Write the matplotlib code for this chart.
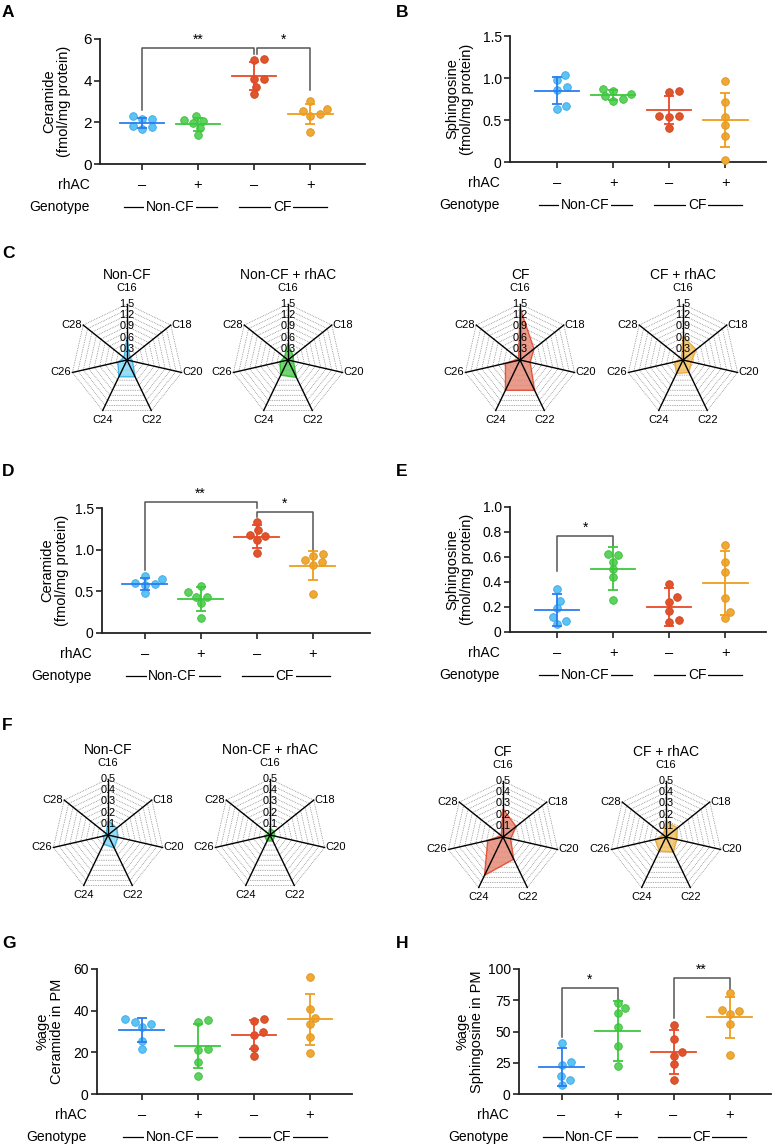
import matplotlib

matplotlib.use("Agg")
import matplotlib.pyplot as plt
import numpy as np
from matplotlib import transforms

plt.rcParams["font.family"] = ["Liberation Sans", "DejaVu Sans"]

W, H = 772, 1144

RHAC = ["\u2013", "+", "\u2013", "+"]
CHAINS = ["C16", "C18", "C20", "C22", "C24", "C26", "C28"]
RADAR_TITLES = ["Non-CF", "Non-CF + rhAC", "CF", "CF + rhAC"]

# A: total ceramide (fmol/mg protein)
a_pts = [[2.16, 2.16, 2.29, 1.82, 1.70, 1.78],
         [2.32, 2.06, 2.12, 1.72, 1.38, 1.98],
         [4.98, 5.02, 4.10, 4.06, 3.70, 3.36],
         [2.66, 3.02, 2.56, 2.42, 2.30, 1.52]]
a_mean = [1.97, 1.90, 4.22, 2.42]
a_sd = [0.26, 0.32, 0.66, 0.48]

# B: sphingosine (fmol/mg protein)
b_pts = [[0.98, 1.04, 0.89, 0.86, 0.67, 0.63],
         [0.84, 0.865, 0.81, 0.78, 0.75, 0.73],
         [0.83, 0.845, 0.55, 0.535, 0.55, 0.40],
         [0.97, 0.71, 0.54, 0.44, 0.31, 0.02]]
b_mean = [0.85, 0.80, 0.62, 0.50]
b_sd = [0.165, 0.06, 0.17, 0.32]

# C: ceramide species (radar, 0-1.5)
c_species = [[0.60, 0.10, 0.15, 0.50, 0.50, 0.25, 0.10],
             [0.44, 0.18, 0.15, 0.52, 0.45, 0.22, 0.12],
             [1.40, 0.48, 0.28, 0.90, 0.90, 0.40, 0.05],
             [0.63, 0.45, 0.23, 0.37, 0.40, 0.23, 0.05]]

# D: ceramide, second compartment
d_pts = [[0.648, 0.688, 0.584, 0.604, 0.572, 0.476],
         [0.564, 0.492, 0.428, 0.436, 0.36, 0.184],
         [1.33, 1.236, 1.164, 1.18, 1.116, 0.956],
         [0.924, 0.944, 0.872, 0.848, 0.82, 0.472]]
d_mean = [0.59, 0.41, 1.155, 0.81]
d_sd = [0.074, 0.14, 0.136, 0.174]

# E: sphingosine, second compartment
e_pts = [[0.34, 0.245, 0.19, 0.117, 0.09, 0.064],
         [0.624, 0.613, 0.563, 0.50, 0.44, 0.256],
         [0.38, 0.28, 0.24, 0.17, 0.077, 0.099],
         [0.699, 0.56, 0.48, 0.27, 0.16, 0.109]]
e_mean = [0.176, 0.507, 0.197, 0.39]
e_sd = [0.13, 0.173, 0.152, 0.255]

# F: ceramide species (radar, 0-0.5)
f_species = [[0.13, 0.10, 0.09, 0.13, 0.09, 0.04, 0.02],
             [0.06, 0.05, 0.04, 0.06, 0.06, 0.05, 0.02],
             [0.25, 0.15, 0.07, 0.22, 0.38, 0.14, 0.02],
             [0.14, 0.13, 0.10, 0.15, 0.14, 0.10, 0.03]]

# G: % ceramide in PM
g_pts = [[36, 34.7, 33.6, 32.2, 25.3, 21.8],
         [35.5, 34.6, 21, 21.8, 15.4, 8.8],
         [35, 35.8, 29.9, 28.2, 22.2, 18.4],
         [56, 40.8, 36.5, 33.6, 27.4, 19.8]]
g_mean = [30.6, 23.0, 28.5, 35.8]
g_sd = [5.85, 10.5, 6.9, 12.3]

# H: % sphingosine in PM
h_pts = [[40.8, 25.5, 23, 14.5, 11.3, 7.5],
         [73, 68.5, 64.5, 54, 38.4, 22.7],
         [55.2, 43.7, 33.6, 30.4, 24.3, 11.5],
         [80.8, 66.7, 67.5, 63.7, 56.3, 30.9]]
h_mean = [21.6, 50.4, 33.6, 61.3]
h_sd = [15.5, 24.0, 17.5, 16.5]

DOT = ["#5BC4F5", "#5CD35C", "#E0562C", "#F0A933"]
DOT_EDGE = ["#3AA6E8", "#3DBA3D", "#C9441F", "#D9921F"]
LINE = ["#2B7DF0", "#3CC83C", "#E84A2A", "#EE9D1E"]
FILL = ["#7DD6F5", "#4DCB4D", "#E58370", "#F0BE5A"]
EDGE = ["#29A9E0", "#22B422", "#E03A1C", "#E8A12A"]

fig = plt.figure(figsize=(W / 100, H / 100), dpi=100)


def px_axes(x0, y0, x1, y1):
    return fig.add_axes([x0 / W, 1 - y1 / H, (x1 - x0) / W, (y1 - y0) / H])


def letter(x, y, s):
    fig.text(x / W, 1 - y / H, s, fontsize=12.5, fontweight="bold", ha="left", va="center")


def swarm(ax, xi, vals, dx_min=10.0, dy_min=7.2):
    # greedy beeswarm in pixel space, elliptical exclusion zone
    vals = np.asarray(vals, dtype=float)
    ys = ax.transData.transform(np.column_stack([np.full(len(vals), xi), vals]))[:, 1]
    ppu = ax.transData.transform((1, 0))[0] - ax.transData.transform((0, 0))[0]
    cands = [0.0]
    for k in range(1, 80):
        cands += [k * 0.5, -k * 0.5]
    placed = []
    offs = np.zeros(len(vals))
    for idx in np.argsort(ys):
        y = ys[idx]
        for c in cands:
            if all(((px - c) / dx_min) ** 2 + ((py - y) / dy_min) ** 2 >= 1 for px, py in placed):
                placed.append((c, y))
                offs[idx] = c / ppu
                break
    return offs


def bracket(ax, x1, x2, y, y1, y2, stars):
    ax.plot([x1, x1, x2, x2], [y1, y, y, y2], color="#555555", lw=1.1, clip_on=False)
    ax.annotate(stars, ((x1 + x2) / 2, y), xytext=(0, 1), textcoords="offset points",
                ha="center", va="bottom", fontsize=10, annotation_clip=False)


def dot_panel(box, xlim, ylim, yticks, yticklabels, ylabel, ylab_x, pts, means, sds, tick_fs=10):
    ax = px_axes(*box)
    ax.set_xlim(xlim)
    ax.set_ylim(ylim)
    for s in ["top", "right"]:
        ax.spines[s].set_visible(False)
    for s in ["left", "bottom"]:
        ax.spines[s].set_linewidth(1.3)
        ax.spines[s].set_color("#222222")
    ax.set_yticks(yticks)
    ax.set_yticklabels(yticklabels)
    ax.set_xticks(range(4))
    ax.set_xticklabels([])
    ax.tick_params(axis="both", length=4, width=1.2, color="#222222", labelsize=tick_fs, pad=2)
    for i, (vals, m, s) in enumerate(zip(pts, means, sds)):
        offs = swarm(ax, i, vals)
        ax.plot(i + offs, vals, "o", ms=5.5, mfc=DOT[i], mec=DOT_EDGE[i], mew=0.6,
                zorder=3, clip_on=False)
        ax.plot([i - 0.4, i + 0.4], [m, m], color=LINE[i], lw=1.3, zorder=4)
        ax.errorbar(i, m, yerr=s, color=LINE[i], capsize=3.8, capthick=1.3, elinewidth=1.3,
                    zorder=4)
    yc = (box[1] + box[3]) / 2
    fig.text(ylab_x / W, 1 - yc / H, ylabel, rotation=90, ha="center", va="center",
             fontsize=10.5, linespacing=1.05, multialignment="center")
    # rhAC / genotype rows
    tr = transforms.blended_transform_factory(ax.transData, fig.transFigure)
    y1 = 1 - (box[3] + 21) / H
    y2 = 1 - (box[3] + 43) / H
    for i, s in enumerate(RHAC):
        ax.text(i, y1, s, transform=tr, ha="center", va="center", fontsize=10.5)
    fig.text((box[0] - 10) / W, y1, "rhAC", ha="right", va="center", fontsize=10)
    fig.text((box[0] - 10) / W, y2, "Genotype", ha="right", va="center", fontsize=10)
    for (a, b), lab, mid in [((-0.33, 1.34), "Non-CF", 0.5), ((1.73, 3.3), "CF", 2.5)]:
        ax.plot([a, b], [y2, y2], transform=tr, color="black", lw=0.9, clip_on=False)
        ax.text(mid, y2, lab, transform=tr, ha="center", va="center", fontsize=10,
                bbox=dict(fc="white", ec="none", pad=1.2))
    return ax


def radar(cx, cy, vals, rmax, ticks, fill, edge, title, nring=10):
    s = rmax / 56.0
    ax = px_axes(cx - 90, cy - 105, cx + 90, cy + 105)
    ax.set_xlim(-90 * s, 90 * s)
    ax.set_ylim(-105 * s, 105 * s)
    ax.axis("off")
    n = len(CHAINS)
    ang = np.pi / 2 - 2 * np.pi * np.arange(n) / n
    ca, sa = np.cos(ang), np.sin(ang)
    for k in range(1, nring + 1):
        r = rmax * k / nring
        ax.plot(np.append(r * ca, r * ca[0]), np.append(r * sa, r * sa[0]),
                color="#7a7a7a", lw=0.55, ls=(0, (1, 1.3)), zorder=1)
    v = np.array(vals)
    ax.fill(v * ca, v * sa, fc=fill, ec=edge, lw=1.0, alpha=0.8, zorder=2)
    for c, sn in zip(ca, sa):
        ax.plot([0, rmax * c], [0, rmax * sn], color="black", lw=1.0, zorder=3)
    for t in ticks:
        ax.text(0, t, f"{t:g}", ha="center", va="center", fontsize=7.8, zorder=4)
    for lab, c, sn in zip(CHAINS, ca, sa):
        x, y = rmax * c, rmax * sn
        if lab == "C16":
            ax.text(0, rmax * 1.28, lab, ha="center", va="center", fontsize=8)
        elif lab in ("C18", "C20"):
            ax.text(x + 1 * s, y, lab, ha="left", va="center", fontsize=8)
        elif lab in ("C26", "C28"):
            ax.text(x - 1 * s, y, lab, ha="right", va="center", fontsize=8)
        else:
            ax.text(x, y - 5 * s, lab, ha="center", va="top", fontsize=8)
    ax.text(0, rmax * 1.52, title, ha="center", va="center", fontsize=10)
    return ax


# ---- A
ax = dot_panel((100, 39, 365, 164), (-0.75, 3.98), (0, 6), [0, 2, 4, 6], ["0", "2", "4", "6"],
               "Ceramide\n(fmol/mg protein)", 57, a_pts, a_mean, a_sd, tick_fs=11)
bracket(ax, 0, 2, 5.58, 2.6, 5.3, "**")
bracket(ax, 2.06, 3, 5.58, 5.3, 3.55, "*")
letter(2, 12.5, "A")

# ---- B
dot_panel((510, 36, 766, 162), (-0.84, 3.73), (0, 1.5), [0, 0.5, 1.0, 1.5],
          ["0", "0.5", "1.0", "1.5"], "Sphingosine\n(fmol/mg protein)", 460,
          b_pts, b_mean, b_sd)
letter(396, 12.5, "B")

# ---- C
letter(2, 253, "C")
for i, (cx, cy) in enumerate([(127, 360), (288, 360), (520, 360), (683, 360)]):
    radar(cx, cy, c_species[i], 1.5, [0.3, 0.6, 0.9, 1.2, 1.5], FILL[i], EDGE[i],
          RADAR_TITLES[i])

# ---- D
ax = dot_panel((102, 508, 370, 633), (-0.76, 4.02), (0, 1.5), [0, 0.5, 1.0, 1.5],
               ["0", "0.5", "1.0", "1.5"], "Ceramide\n(fmol/mg protein)", 55,
               d_pts, d_mean, d_sd)
bracket(ax, 0, 2, 1.57, 0.76, 1.5, "**")
bracket(ax, 2, 3, 1.45, 1.39, 0.98, "*")
letter(2, 471, "D")

# ---- E
ax = dot_panel((510, 507, 766, 632), (-0.84, 3.73), (0, 1.0), [0, 0.2, 0.4, 0.6, 0.8, 1.0],
               ["0", "0.2", "0.4", "0.6", "0.8", "1.0"], "Sphingosine\n(fmol/mg protein)", 460,
               e_pts, e_mean, e_sd)
bracket(ax, 0, 1, 0.765, 0.485, 0.685, "*")
letter(396, 471, "E")

# ---- F
letter(2, 725, "F")
for i, (cx, cy) in enumerate([(108, 835), (270, 835), (503, 837), (666, 837)]):
    radar(cx, cy, f_species[i], 0.5, [0.1, 0.2, 0.3, 0.4, 0.5], FILL[i], EDGE[i],
          RADAR_TITLES[i])

# ---- G
dot_panel((97, 969, 352, 1094), (-0.8, 3.75), (0, 60), [0, 20, 40, 60],
          ["0", "20", "40", "60"], "%age\nCeramide in PM", 50, g_pts, g_mean, g_sd)
letter(2, 943, "G")

# ---- H
ax = dot_panel((519, 969, 771, 1094), (-0.76, 3.74), (0, 100), [0, 25, 50, 75, 100],
               ["0", "25", "50", "75", "100"], "%age\nSphingosine in PM", 470,
               h_pts, h_mean, h_sd)
bracket(ax, 0, 1, 84.5, 46, 75, "*")
bracket(ax, 2, 3, 93, 60.5, 83, "**")
letter(396, 943, "H")

fig.savefig("out.png", dpi=100)
